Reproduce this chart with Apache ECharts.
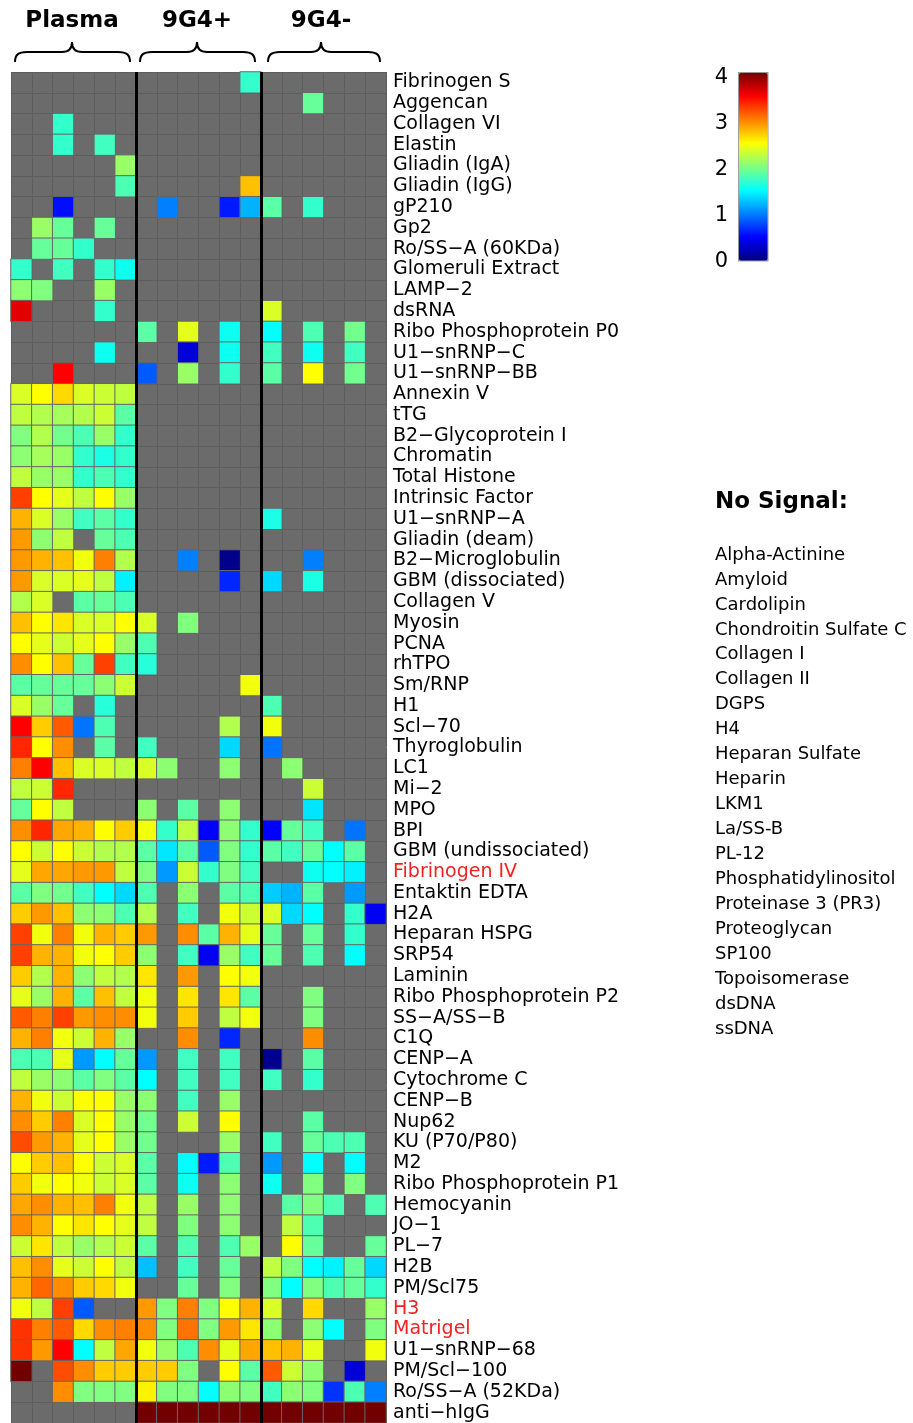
<!DOCTYPE html>
<html>
<head>
<meta charset="utf-8">
<script src="https://cdn.jsdelivr.net/npm/echarts@6.0.0/dist/echarts.min.js"></script>
<style>
  html, body { margin: 0; padding: 0; background: #fff; }
  #main { width: 913px; height: 1423px; }
</style>
</head>
<body>
<div id="main"></div>
<script>
const _ = null;

// row labels (top to bottom)
const antigens = [
  "Fibrinogen S", "Aggencan", "Collagen VI", "Elastin", "Gliadin (IgA)", "Gliadin (IgG)",
  "gP210", "Gp2", "Ro/SS\u2212A (60KDa)", "Glomeruli Extract", "LAMP\u22122", "dsRNA",
  "Ribo Phosphoprotein P0", "U1\u2212snRNP\u2212C", "U1\u2212snRNP\u2212BB", "Annexin V", "tTG",
  "B2\u2212Glycoprotein I", "Chromatin", "Total Histone", "Intrinsic Factor", "U1\u2212snRNP\u2212A",
  "Gliadin (deam)", "B2\u2212Microglobulin", "GBM (dissociated)", "Collagen V", "Myosin", "PCNA",
  "rhTPO", "Sm/RNP", "H1", "Scl\u221270", "Thyroglobulin", "LC1", "Mi\u22122", "MPO", "BPI",
  "GBM (undissociated)", "Fibrinogen IV", "Entaktin EDTA", "H2A", "Heparan HSPG", "SRP54",
  "Laminin", "Ribo Phosphoprotein P2", "SS\u2212A/SS\u2212B", "C1Q", "CENP\u2212A", "Cytochrome C",
  "CENP\u2212B", "Nup62", "KU (P70/P80)", "M2", "Ribo Phosphoprotein P1", "Hemocyanin", "JO\u22121",
  "PL\u22127", "H2B", "PM/Scl75", "H3", "Matrigel", "U1\u2212snRNP\u221268", "PM/Scl\u2212100",
  "Ro/SS\u2212A (52KDa)", "anti\u2212hIgG"
];
const redLabels = ["Fibrinogen IV", "H3", "Matrigel"];

const groups = ["Plasma", "9G4+", "9G4-"];
const samples = [
  "P1", "P2", "P3", "P4", "P5", "P6",
  "9G4+ 1", "9G4+ 2", "9G4+ 3", "9G4+ 4", "9G4+ 5", "9G4+ 6",
  "9G4- 1", "9G4- 2", "9G4- 3", "9G4- 4", "9G4- 5", "9G4- 6"
];

// signal per antigen (row) and sample (6 per group), null = no signal
const plasma = [
  [_, _, _, _, _, _],
  [_, _, _, _, _, _],
  [_, _, 1.7, _, _, _],
  [_, _, 1.7, _, 1.75, _],
  [_, _, _, _, _, 2.1],
  [_, _, _, _, _, 1.8],
  [_, _, 0.55, _, _, _],
  [_, 2.1, 1.9, _, 1.9, _],
  [_, 1.9, 1.9, 1.7, _, _],
  [1.7, _, 1.75, _, 1.7, 1.55],
  [2.05, 2.0, _, _, 2.1, _],
  [3.6, _, _, _, 1.7, _],
  [_, _, _, _, _, _],
  [_, _, _, _, 1.55, _],
  [_, _, 3.5, _, _, _],
  [2.35, 2.5, 2.65, 2.35, 2.3, 2.25],
  [2.25, 2.2, 2.15, 2.2, 2.3, 1.85],
  [2.0, 2.2, 1.95, 1.8, 2.1, 1.7],
  [2.05, 2.15, 2.1, 1.7, 1.6, 1.7],
  [2.25, 2.1, 2.1, 1.7, 1.8, 1.7],
  [3.25, 2.5, 2.4, 2.25, 2.5, 2.1],
  [2.8, 2.35, 2.1, 1.75, 1.85, 1.7],
  [2.9, 2.05, 2.25, _, 1.9, 1.8],
  [2.9, 2.8, 2.75, 2.45, 3.0, 2.2],
  [2.9, 2.35, 2.35, 2.4, 2.25, 1.45],
  [2.2, 2.35, _, 1.85, 1.9, 1.8],
  [2.75, 2.5, 2.6, 2.35, 2.35, 2.5],
  [2.5, 2.4, 2.3, 2.4, 2.5, 2.1],
  [2.95, 2.5, 2.75, 1.9, 3.25, 1.75],
  [1.85, 1.9, 1.9, 1.9, 2.05, 2.3],
  [2.35, 2.1, 1.9, _, 1.65, _],
  [3.5, 2.7, 3.15, 0.95, 1.8, _],
  [3.35, 2.5, 2.95, _, 1.85, _],
  [3.0, 3.5, 2.75, 2.35, 2.35, 2.25],
  [2.25, 2.3, 3.35, _, _, _],
  [1.9, 2.5, 2.25, _, _, _],
  [2.95, 3.35, 2.85, 2.8, 2.5, 2.7],
  [2.5, 2.3, 2.5, 2.3, 2.2, 2.2],
  [2.4, 2.85, 2.85, 2.9, 2.9, 2.25],
  [1.85, 2.0, 1.95, 1.75, 1.5, 1.35],
  [2.7, 2.9, 2.75, 2.05, 2.05, 1.8],
  [3.25, 2.45, 3.0, 2.45, 2.8, 2.7],
  [3.25, 2.8, 2.8, 2.45, 2.5, 2.7],
  [2.7, 2.2, 2.8, 2.05, 2.25, 2.2],
  [2.4, 2.1, 2.8, 1.85, 2.75, 2.25],
  [3.15, 3.0, 3.25, 2.9, 2.95, 2.95],
  [2.8, 3.0, 2.45, 2.3, 2.8, 2.1],
  [1.8, 1.8, 2.4, 1.1, 1.5, 1.9],
  [2.25, 2.1, 2.05, 1.85, 2.0, 1.85],
  [2.8, 2.45, 2.3, 2.5, 2.5, 2.1],
  [2.95, 2.7, 3.0, 2.35, 2.5, 2.1],
  [3.2, 2.9, 2.8, 2.4, 2.5, 2.1],
  [2.5, 2.7, 2.75, 2.5, 2.3, 2.35],
  [2.7, 2.45, 2.5, 2.45, 2.3, 2.35],
  [2.85, 2.95, 2.8, 2.75, 3.0, 2.45],
  [2.95, 2.8, 2.5, 2.6, 2.5, 2.4],
  [2.3, 2.6, 2.25, 2.1, 2.2, 2.3],
  [2.75, 2.95, 2.4, 2.3, 2.5, 2.25],
  [2.8, 3.1, 2.95, 2.7, 2.65, 2.45],
  [2.45, 2.25, 3.25, 0.85, _, _],
  [3.3, 3.0, 3.15, 2.65, 2.95, 3.0],
  [3.3, 2.9, 3.5, 1.5, 2.25, 2.85],
  [4.0, _, 3.2, 2.95, 2.7, 2.7],
  [_, _, 2.95, 2.0, 2.0, 2.0],
  [_, _, _, _, _, _]
];

const pos9G4 = [
  [_, _, _, _, _, 1.7],
  [_, _, _, _, _, _],
  [_, _, _, _, _, _],
  [_, _, _, _, _, _],
  [_, _, _, _, _, _],
  [_, _, _, _, _, 2.75],
  [_, 1.0, _, _, 0.6, 1.2],
  [_, _, _, _, _, _],
  [_, _, _, _, _, _],
  [_, _, _, _, _, _],
  [_, _, _, _, _, _],
  [_, _, _, _, _, _],
  [1.85, _, 2.4, _, 1.55, _],
  [_, _, 0.35, _, 1.55, _],
  [0.85, _, 2.1, _, 1.7, _],
  [_, _, _, _, _, _],
  [_, _, _, _, _, _],
  [_, _, _, _, _, _],
  [_, _, _, _, _, _],
  [_, _, _, _, _, _],
  [_, _, _, _, _, _],
  [_, _, _, _, _, _],
  [_, _, _, _, _, _],
  [_, _, 1.0, _, 0.05, _],
  [_, _, _, _, 0.65, _],
  [_, _, _, _, _, _],
  [2.35, _, 2.0, _, _, _],
  [1.8, _, _, _, _, _],
  [1.65, _, _, _, _, _],
  [_, _, _, _, _, 2.45],
  [_, _, _, _, _, _],
  [_, _, _, _, 2.2, _],
  [1.75, _, _, _, 1.35, _],
  [2.35, 2.05, _, _, 2.05, _],
  [_, _, _, _, _, _],
  [2.05, _, 1.85, _, 2.05, _],
  [2.45, 1.7, 2.25, 0.5, 2.05, 1.7],
  [1.85, 1.4, 1.85, 0.85, 2.0, 1.7],
  [2.0, 1.1, 2.3, 1.7, 2.0, 1.75],
  [1.8, _, 2.05, _, 1.85, 1.8],
  [2.2, _, 1.75, _, 2.45, 2.3],
  [2.9, _, 2.95, 1.85, 2.8, 2.4],
  [2.05, _, 1.75, 0.45, 2.1, 1.75],
  [2.6, _, 2.9, _, 2.5, 2.45],
  [2.45, _, 2.6, _, 2.6, 1.85],
  [2.45, _, 2.7, _, 2.25, 2.45],
  [_, _, 2.95, _, 0.65, _],
  [1.1, _, 1.75, _, 1.75, _],
  [1.5, _, 1.75, _, 1.75, _],
  [2.05, _, 1.75, _, 2.1, _],
  [1.95, _, 2.3, _, 2.5, _],
  [1.95, _, _, _, 2.1, _],
  [1.85, _, 1.5, 0.6, 1.8, _],
  [1.85, _, 1.55, _, 2.05, _],
  [2.25, _, 2.1, _, 2.05, _],
  [2.25, _, 2.0, _, 2.05, _],
  [1.85, _, 1.8, _, 1.8, 2.1],
  [1.25, _, 1.75, _, 1.9, _],
  [_, _, 1.9, _, 2.0, _],
  [2.9, 2.0, 3.0, 2.0, 2.5, 2.8],
  [2.95, 2.0, 3.05, 2.0, 2.9, 2.6],
  [2.45, 2.1, 1.8, 2.95, 2.4, 2.85],
  [2.7, 2.7, 2.0, _, 2.5, 1.85],
  [2.55, 2.0, 2.0, 1.5, 2.05, 2.0],
  [4.0, 4.0, 4.0, 4.0, 4.0, 4.0]
];

const neg9G4 = [
  [_, _, _, _, _, _],
  [_, _, 1.9, _, _, _],
  [_, _, _, _, _, _],
  [_, _, _, _, _, _],
  [_, _, _, _, _, _],
  [_, _, _, _, _, _],
  [1.85, _, 1.7, _, _, _],
  [_, _, _, _, _, _],
  [_, _, _, _, _, _],
  [_, _, _, _, _, _],
  [_, _, _, _, _, _],
  [2.35, _, _, _, _, _],
  [1.5, _, 1.8, _, 1.95, _],
  [1.75, _, 1.55, _, 1.75, _],
  [1.85, _, 2.5, _, 1.95, _],
  [_, _, _, _, _, _],
  [_, _, _, _, _, _],
  [_, _, _, _, _, _],
  [_, _, _, _, _, _],
  [_, _, _, _, _, _],
  [_, _, _, _, _, _],
  [1.6, _, _, _, _, _],
  [_, _, _, _, _, _],
  [_, _, 1.0, _, _, _],
  [1.35, _, 1.6, _, _, _],
  [_, _, _, _, _, _],
  [_, _, _, _, _, _],
  [_, _, _, _, _, _],
  [_, _, _, _, _, _],
  [_, _, _, _, _, _],
  [1.8, _, _, _, _, _],
  [2.45, _, _, _, _, _],
  [0.95, _, _, _, _, _],
  [_, 2.05, _, _, _, _],
  [_, _, 2.3, _, _, _],
  [_, _, 1.4, _, _, _],
  [0.5, 1.9, 1.75, _, 0.95, _],
  [1.85, 1.75, 1.9, 1.5, 1.85, _],
  [_, _, 1.55, 1.5, 1.45, _],
  [1.3, 1.2, 1.85, _, 1.1, _],
  [2.35, 1.35, 1.5, _, 1.7, 0.45],
  [1.9, _, 1.9, _, 1.7, _],
  [1.9, _, 1.8, _, 1.5, _],
  [_, _, _, _, _, _],
  [_, _, 2.0, _, _, _],
  [_, _, 2.0, _, _, _],
  [_, _, 2.95, _, _, _],
  [0.05, _, 1.85, _, _, _],
  [1.75, _, 1.7, _, _, _],
  [_, _, _, _, _, _],
  [_, _, 1.85, _, _, _],
  [1.75, _, 1.9, 1.8, 1.8, _],
  [1.1, _, 1.5, _, 1.5, _],
  [1.55, _, 2.0, _, 2.0, _],
  [_, 1.85, 2.0, 1.8, _, 1.8],
  [_, 2.25, 1.8, _, _, _],
  [_, 2.5, 1.9, _, _, 1.9],
  [2.25, 2.0, 1.5, 1.45, 1.9, 1.35],
  [2.0, 1.5, 2.0, 1.8, 1.9, 1.7],
  [2.35, _, 2.65, _, _, 2.1],
  [2.05, _, 2.05, 1.5, _, 2.0],
  [2.75, 2.8, 2.4, _, _, 2.45],
  [3.15, 2.3, 2.05, _, 0.35, _],
  [1.75, 2.05, 2.0, 0.7, 1.8, 1.0],
  [4.0, 4.0, 4.0, 4.0, 4.0, 4.0]
];

const noSignal = [
  "Alpha-Actinine", "Amyloid", "Cardolipin", "Chondroitin Sulfate C", "Collagen I",
  "Collagen II", "DGPS", "H4", "Heparan Sulfate", "Heparin", "LKM1", "La/SS-B", "PL-12",
  "Phosphatidylinositol", "Proteinase 3 (PR3)", "Proteoglycan", "SP100", "Topoisomerase",
  "dsDNA", "ssDNA"
];

// jet colour scale 0..4
const jet = ["#000080", "#0000ff", "#0080ff", "#00ffff", "#80ff80", "#ffff00", "#ff8000", "#ff0000", "#720000"];

var myChart = echarts.init(document.getElementById("main"));

var cells = [];
[plasma, pos9G4, neg9G4].forEach(function (block, g) {
  block.forEach(function (row, r) {
    row.forEach(function (v, c) {
      if (v !== null) cells.push([g * 6 + c, r, v]);
    });
  });
});

var font = '"DejaVu Sans", "Liberation Sans", Arial, sans-serif';
var braceLine = { stroke: "#000", lineWidth: 2, fill: null };

// curly brace under each group title, made of curves and lines
function brace(x0, x1, m) {
  return [
    { type: "bezierCurve", shape: { x1: x0, y1: 62, cpx1: x0, cpy1: 55, cpx2: x0 + 3, cpy2: 52, x2: x0 + 12, y2: 52 }, style: braceLine },
    { type: "line", shape: { x1: x0 + 12, y1: 52, x2: m - 10, y2: 52 }, style: braceLine },
    { type: "bezierCurve", shape: { x1: m - 10, y1: 52, cpx1: m - 3, cpy1: 52, cpx2: m, cpy2: 49, x2: m, y2: 42 }, style: braceLine },
    { type: "bezierCurve", shape: { x1: m, y1: 42, cpx1: m, cpy1: 49, cpx2: m + 3, cpy2: 52, x2: m + 10, y2: 52 }, style: braceLine },
    { type: "line", shape: { x1: m + 10, y1: 52, x2: x1 - 12, y2: 52 }, style: braceLine },
    { type: "bezierCurve", shape: { x1: x1 - 12, y1: 52, cpx1: x1 - 3, cpy1: 52, cpx2: x1, cpy2: 55, x2: x1, y2: 62 }, style: braceLine }
  ];
}

var graphics = [];
var headX = [72, 197, 321];
var braces = [[15, 130], [140, 255], [268, 380]];
groups.forEach(function (name, i) {
  graphics.push({
    type: "text", x: headX[i], y: 21,
    style: { text: name, font: "bold 23px " + font, fill: "#000",
      textAlign: "center", textVerticalAlign: "middle" }
  });
  graphics = graphics.concat(brace(braces[i][0], braces[i][1], headX[i]));
});
graphics.push({
  type: "text", x: 715, y: 502,
  style: { text: "No Signal:", font: "bold 23px " + font, fill: "#000",
    textAlign: "left", textVerticalAlign: "middle" }
});
noSignal.forEach(function (name, i) {
  graphics.push({
    type: "text", x: 715, y: 555 + i * 24.95,
    style: { text: name, font: "18px " + font, fill: "#000",
      textAlign: "left", textVerticalAlign: "middle" }
  });
});

var option = {
  animation: false,
  backgroundColor: "#fff",
  grid: [
    { left: 11, top: 72, width: 375, height: 1351, show: true, backgroundColor: "#6b6b6b", borderWidth: 0 },
    { left: 738, top: 78, width: 29, height: 184 }
  ],
  xAxis: [
    {
      type: "category", gridIndex: 0, data: samples,
      axisLine: { show: false }, axisTick: { show: false }, axisLabel: { show: false },
      splitLine: { show: true, interval: 0, lineStyle: { color: "#5d5d5d", width: 1 } }
    },
    {
      // group separators
      type: "value", gridIndex: 0, position: "top", min: 0, max: 18, interval: 6, z: 10,
      axisLine: { show: false }, axisTick: { show: false }, axisLabel: { show: false },
      splitLine: { show: true, showMinLine: false, showMaxLine: false, lineStyle: { color: "#000", width: 3 } }
    },
    { type: "value", gridIndex: 1, show: false, min: 0, max: 1 }
  ],
  yAxis: [
    {
      type: "category", gridIndex: 0, data: antigens, inverse: true, position: "right",
      axisLine: { show: false }, axisTick: { show: false },
      splitLine: { show: true, interval: 0, lineStyle: { color: "#5d5d5d", width: 1 } },
      axisLabel: {
        interval: 0, margin: 7, fontSize: 19, fontFamily: font,
        color: function (value) {
          return redLabels.indexOf(value) >= 0 ? "#f22222" : "#000";
        }
      }
    },
    {
      type: "value", gridIndex: 1, min: 0, max: 4, interval: 1, position: "left",
      axisLine: { show: false }, axisTick: { show: false }, splitLine: { show: false },
      axisLabel: { margin: 10, fontSize: 21, fontFamily: font, color: "#000" }
    }
  ],
  visualMap: {
    type: "continuous", min: 0, max: 4, calculable: false, orient: "vertical",
    left: 738, top: 72, itemWidth: 29, itemHeight: 188, padding: 0,
    borderColor: "#9a9a9a", borderWidth: 1.5,
    inRange: { color: jet }, seriesIndex: 0
  },
  graphic: graphics,
  series: [
    {
      type: "heatmap", xAxisIndex: 0, yAxisIndex: 0, data: cells,
      itemStyle: { borderColor: "#666", borderWidth: 1 },
      emphasis: { disabled: true }
    }
  ]
};

myChart.setOption(option);
</script>
</body>
</html>
